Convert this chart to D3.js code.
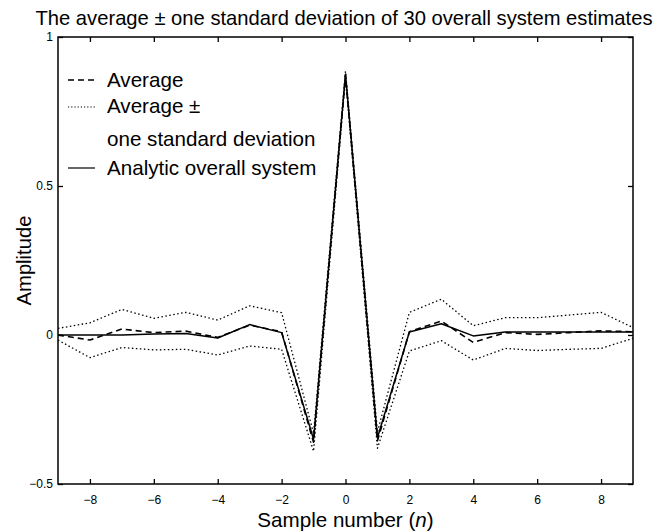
<!DOCTYPE html>
<html>
<head>
<meta charset="utf-8">
<script src="https://cdn.jsdelivr.net/npm/d3@7"></script>
<style>
    body { margin: 0; background: #fff; }
    svg text { font-family: "Liberation Sans", Arial, Helvetica, sans-serif; fill: #000; }
</style>
</head>
<body>
<div id="chart"></div>
<script>

// sample index n
let samples = [-9, -8, -7, -6, -5, -4, -3, -2, -1, 0, 1, 2, 3, 4, 5, 6, 7, 8, 9];

// analytic overall system (solid)
let analytic = [0, 0, 0, 0.003, 0.005, -0.01, 0.035, 0.008, -0.35, 0.875, -0.345, 0.01, 0.038, -0.003, 0.01, 0.01, 0.01, 0.01, 0.01];

// average of the 30 estimates (dashed)
let average = [0, -0.017, 0.02, 0.008, 0.013, -0.008, 0.033, 0.011, -0.36, 0.872, -0.355, 0.011, 0.047, -0.025, 0.008, 0.002, 0.008, 0.014, 0.011];

// average + / - one standard deviation (dotted)
let upper = [0.022, 0.041, 0.086, 0.056, 0.076, 0.05, 0.098, 0.075, -0.33, 0.885, -0.325, 0.076, 0.12, 0.031, 0.058, 0.058, 0.067, 0.076, 0.025];
let lower = [-0.017, -0.076, -0.042, -0.05, -0.048, -0.067, -0.037, -0.048, -0.39, 0.862, -0.38, -0.054, -0.019, -0.084, -0.045, -0.052, -0.048, -0.045, -0.011];

let xTicks = [-8, -6, -4, -2, 0, 2, 4, 6, 8];
let yTicks = [-0.5, 0, 0.5, 1];

let titleText = "The average \u00b1 one standard deviation of 30 overall system estimates";

let width = 661, height = 531;
let margin = {top: 37, right: 28, bottom: 47, left: 58};
let innerW = width - margin.left - margin.right;
let innerH = height - margin.top - margin.bottom;

let svg = d3.select("#chart").append("svg")
    .attr("width", width)
    .attr("height", height);

let g = svg.append("g")
    .attr("transform", "translate(" + margin.left + "," + margin.top + ")");

let x = d3.scaleLinear().domain([-9, 9]).range([0, innerW]);
let y = d3.scaleLinear().domain([-0.5, 1]).range([innerH, 0]);

let fmt = d => d3.format("")(d).replace("-", "\u2212");

// clip for the data lines
g.append("clipPath").attr("id", "clip")
    .append("rect").attr("width", innerW).attr("height", innerH);

let line = d3.line()
    .x((d, i) => x(samples[i]))
    .y(d => y(d));

let series = [
    {values: upper, dash: "1.5,2.5", w: 1.3},
    {values: lower, dash: "1.5,2.5", w: 1.3},
    {values: average, dash: "6,4", w: 1.6},
    {values: analytic, dash: null, w: 1.5}
];

g.append("g").attr("clip-path", "url(#clip)")
    .selectAll("path")
    .data(series)
    .enter().append("path")
    .attr("d", d => line(d.values))
    .attr("fill", "none")
    .attr("stroke", "#000")
    .attr("stroke-width", d => d.w)
    .attr("stroke-dasharray", d => d.dash)
    .attr("stroke-linejoin", "round");

// axes, ticks pointing inward on all four sides
g.append("g")
    .attr("transform", "translate(0," + innerH + ")")
    .call(d3.axisBottom(x).tickValues(xTicks).tickSizeInner(-5).tickSizeOuter(0).tickPadding(11).tickFormat(fmt));
g.append("g")
    .call(d3.axisTop(x).tickValues(xTicks).tickSizeInner(-5).tickSizeOuter(0).tickFormat(""));
g.append("g")
    .call(d3.axisLeft(y).tickValues(yTicks).tickSizeInner(-5).tickSizeOuter(0).tickPadding(5).tickFormat(fmt));
g.append("g")
    .attr("transform", "translate(" + innerW + ",0)")
    .call(d3.axisRight(y).tickValues(yTicks).tickSizeInner(-5).tickSizeOuter(0).tickFormat(""));

g.selectAll(".domain").remove();
g.selectAll(".tick line").attr("stroke", "#000").attr("stroke-width", 1.3);
g.selectAll(".tick text").attr("font-size", 12).attr("font-family", "Liberation Sans, Arial, sans-serif");

g.append("rect")
    .attr("width", innerW)
    .attr("height", innerH)
    .attr("fill", "none")
    .attr("stroke", "#000")
    .attr("stroke-width", 1.5);

// title and labels
svg.append("text")
    .attr("x", 344)
    .attr("y", 25)
    .attr("text-anchor", "middle")
    .attr("font-size", 20.2)
    .text(titleText);

let xLabel = svg.append("text")
    .attr("x", margin.left + innerW / 2)
    .attr("y", 527)
    .attr("text-anchor", "middle")
    .attr("font-size", 20.6);
xLabel.append("tspan").text("Sample number (");
xLabel.append("tspan").attr("font-style", "italic").text("n");
xLabel.append("tspan").text(")");

svg.append("text")
    .attr("transform", "translate(31," + (margin.top + innerH / 2) + ") rotate(-90)")
    .attr("text-anchor", "middle")
    .attr("font-size", 20.2)
    .text("Amplitude");

// legend
let legend = [
    {label: "Average", dash: "6,4", w: 1.6, ly: 80, ty: 87},
    {label: "Average \u00b1", dash: "1.2,2", w: 1, ly: 107, ty: 113},
    {label: "one standard deviation", dash: null, w: 0, ly: null, ty: 146},
    {label: "Analytic overall system", dash: null, w: 1.2, ly: 168, ty: 175}
];

let leg = svg.append("g");
leg.selectAll("line")
    .data(legend.filter(d => d.ly !== null))
    .enter().append("line")
    .attr("x1", 68).attr("x2", 95)
    .attr("y1", d => d.ly).attr("y2", d => d.ly)
    .attr("stroke", "#000")
    .attr("stroke-width", d => d.w)
    .attr("stroke-dasharray", d => d.dash);
leg.selectAll("text")
    .data(legend)
    .enter().append("text")
    .attr("x", 107)
    .attr("y", d => d.ty)
    .attr("font-size", 20.6)
    .text(d => d.label);

</script>
</body>
</html>
